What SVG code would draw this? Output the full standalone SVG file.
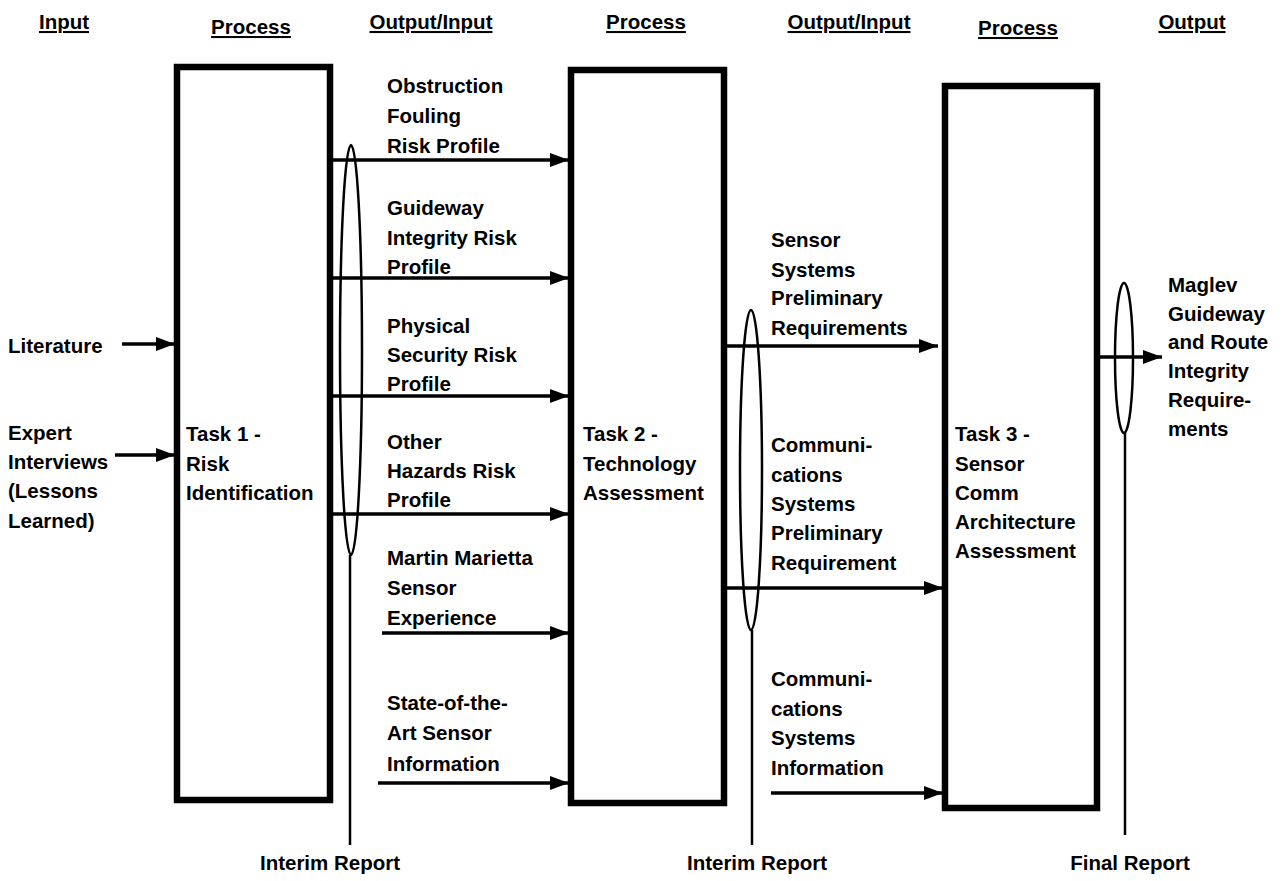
<svg xmlns="http://www.w3.org/2000/svg" width="1288" height="881" viewBox="0 0 1288 881">
<defs>
<marker id="ah" viewBox="0 0 19 14" refX="19" refY="7" markerWidth="19" markerHeight="14" markerUnits="userSpaceOnUse" orient="auto">
<path d="M0,0 L19,7 L0,14 Z" fill="#000"/>
</marker>
</defs>
<style>
text{font-family:"Liberation Sans",Arial,sans-serif;font-weight:bold;font-size:20.5px;fill:#000}
.hd{text-decoration:underline}
.box{fill:none;stroke:#000;stroke-width:6.5}
.arr{stroke:#000;stroke-width:3.5;fill:none;marker-end:url(#ah)}
.ell{fill:none;stroke:#000;stroke-width:2.5}
.ln{stroke:#000;stroke-width:2.5;fill:none}
</style>
<rect width="1288" height="881" fill="#fff"/>
<g id="headers">
<text class="hd" x="64" y="29" text-anchor="middle">Input</text>
<text class="hd" x="251" y="34" text-anchor="middle">Process</text>
<text class="hd" x="431" y="29" text-anchor="middle">Output/Input</text>
<text class="hd" x="646" y="29" text-anchor="middle">Process</text>
<text class="hd" x="849" y="29" text-anchor="middle">Output/Input</text>
<text class="hd" x="1018" y="35" text-anchor="middle">Process</text>
<text class="hd" x="1192" y="29" text-anchor="middle">Output</text>
</g>
<g id="task1">
<rect class="box" x="177" y="67" width="153" height="733"/>
<text x="186" y="441">Task 1 -</text>
<text x="186" y="471">Risk</text>
<text x="186" y="500">Identification</text>
</g>
<g id="task2">
<rect class="box" x="571" y="70" width="153" height="733"/>
<text x="583" y="441">Task 2 -</text>
<text x="583" y="471">Technology</text>
<text x="583" y="500">Assessment</text>
</g>
<g id="task3">
<rect class="box" x="945" y="86" width="152" height="722"/>
<text x="955" y="441">Task 3 -</text>
<text x="955" y="471">Sensor</text>
<text x="955" y="500">Comm</text>
<text x="955" y="529">Architecture</text>
<text x="955" y="558">Assessment</text>
</g>
<g id="inputs">
<text x="8" y="353">Literature</text>
<text x="8" y="440">Expert</text>
<text x="8" y="469">Interviews</text>
<text x="8" y="498">(Lessons</text>
<text x="8" y="528">Learned)</text>
</g>
<g id="out1-labels">
<text x="387" y="93">Obstruction</text>
<text x="387" y="123">Fouling</text>
<text x="387" y="153">Risk Profile</text>
<text x="387" y="215">Guideway</text>
<text x="387" y="245">Integrity Risk</text>
<text x="387" y="274">Profile</text>
<text x="387" y="333">Physical</text>
<text x="387" y="362">Security Risk</text>
<text x="387" y="391">Profile</text>
<text x="387" y="449">Other</text>
<text x="387" y="478">Hazards Risk</text>
<text x="387" y="507">Profile</text>
<text x="387" y="565">Martin Marietta</text>
<text x="387" y="595">Sensor</text>
<text x="387" y="625">Experience</text>
<text x="387" y="710">State-of-the-</text>
<text x="387" y="740">Art Sensor</text>
<text x="387" y="771">Information</text>
</g>
<g id="out2-labels">
<text x="771" y="247">Sensor</text>
<text x="771" y="277">Systems</text>
<text x="771" y="305">Preliminary</text>
<text x="771" y="335">Requirements</text>
<text x="771" y="452">Communi-</text>
<text x="771" y="482">cations</text>
<text x="771" y="511">Systems</text>
<text x="771" y="540">Preliminary</text>
<text x="771" y="570">Requirement</text>
<text x="771" y="686">Communi-</text>
<text x="771" y="716">cations</text>
<text x="771" y="745">Systems</text>
<text x="771" y="775">Information</text>
</g>
<g id="final-output">
<text x="1168" y="292">Maglev</text>
<text x="1168" y="321">Guideway</text>
<text x="1168" y="349">and Route</text>
<text x="1168" y="378">Integrity</text>
<text x="1168" y="407">Require-</text>
<text x="1168" y="436">ments</text>
</g>
<g id="reports">
<ellipse class="ell" cx="351" cy="350" rx="11" ry="205"/>
<line class="ln" x1="350" y1="555" x2="350" y2="845"/>
<text x="330" y="870" text-anchor="middle">Interim Report</text>
<ellipse class="ell" cx="751" cy="470" rx="11" ry="160"/>
<line class="ln" x1="752" y1="630" x2="752" y2="845"/>
<text x="757" y="870" text-anchor="middle">Interim Report</text>
<ellipse class="ell" cx="1124" cy="358" rx="9" ry="75"/>
<line class="ln" x1="1125" y1="433" x2="1125" y2="835"/>
<text x="1130" y="870" text-anchor="middle">Final Report</text>
</g>
<g id="connectors">
<line class="arr" x1="122" y1="344" x2="175" y2="344"/>
<line class="arr" x1="115" y1="455" x2="175" y2="455"/>
<line class="arr" x1="330" y1="160" x2="569" y2="160"/>
<line class="arr" x1="330" y1="278" x2="569" y2="278"/>
<line class="arr" x1="330" y1="396" x2="569" y2="396"/>
<line class="arr" x1="330" y1="514" x2="569" y2="514"/>
<line class="arr" x1="382" y1="633" x2="569" y2="633"/>
<line class="arr" x1="378" y1="783" x2="569" y2="783"/>
<line class="arr" x1="726" y1="346" x2="938" y2="346"/>
<line class="arr" x1="726" y1="588" x2="943" y2="588"/>
<line class="arr" x1="771" y1="793" x2="943" y2="793"/>
<line class="arr" x1="1097" y1="357" x2="1162" y2="357"/>
</g>
</svg>
